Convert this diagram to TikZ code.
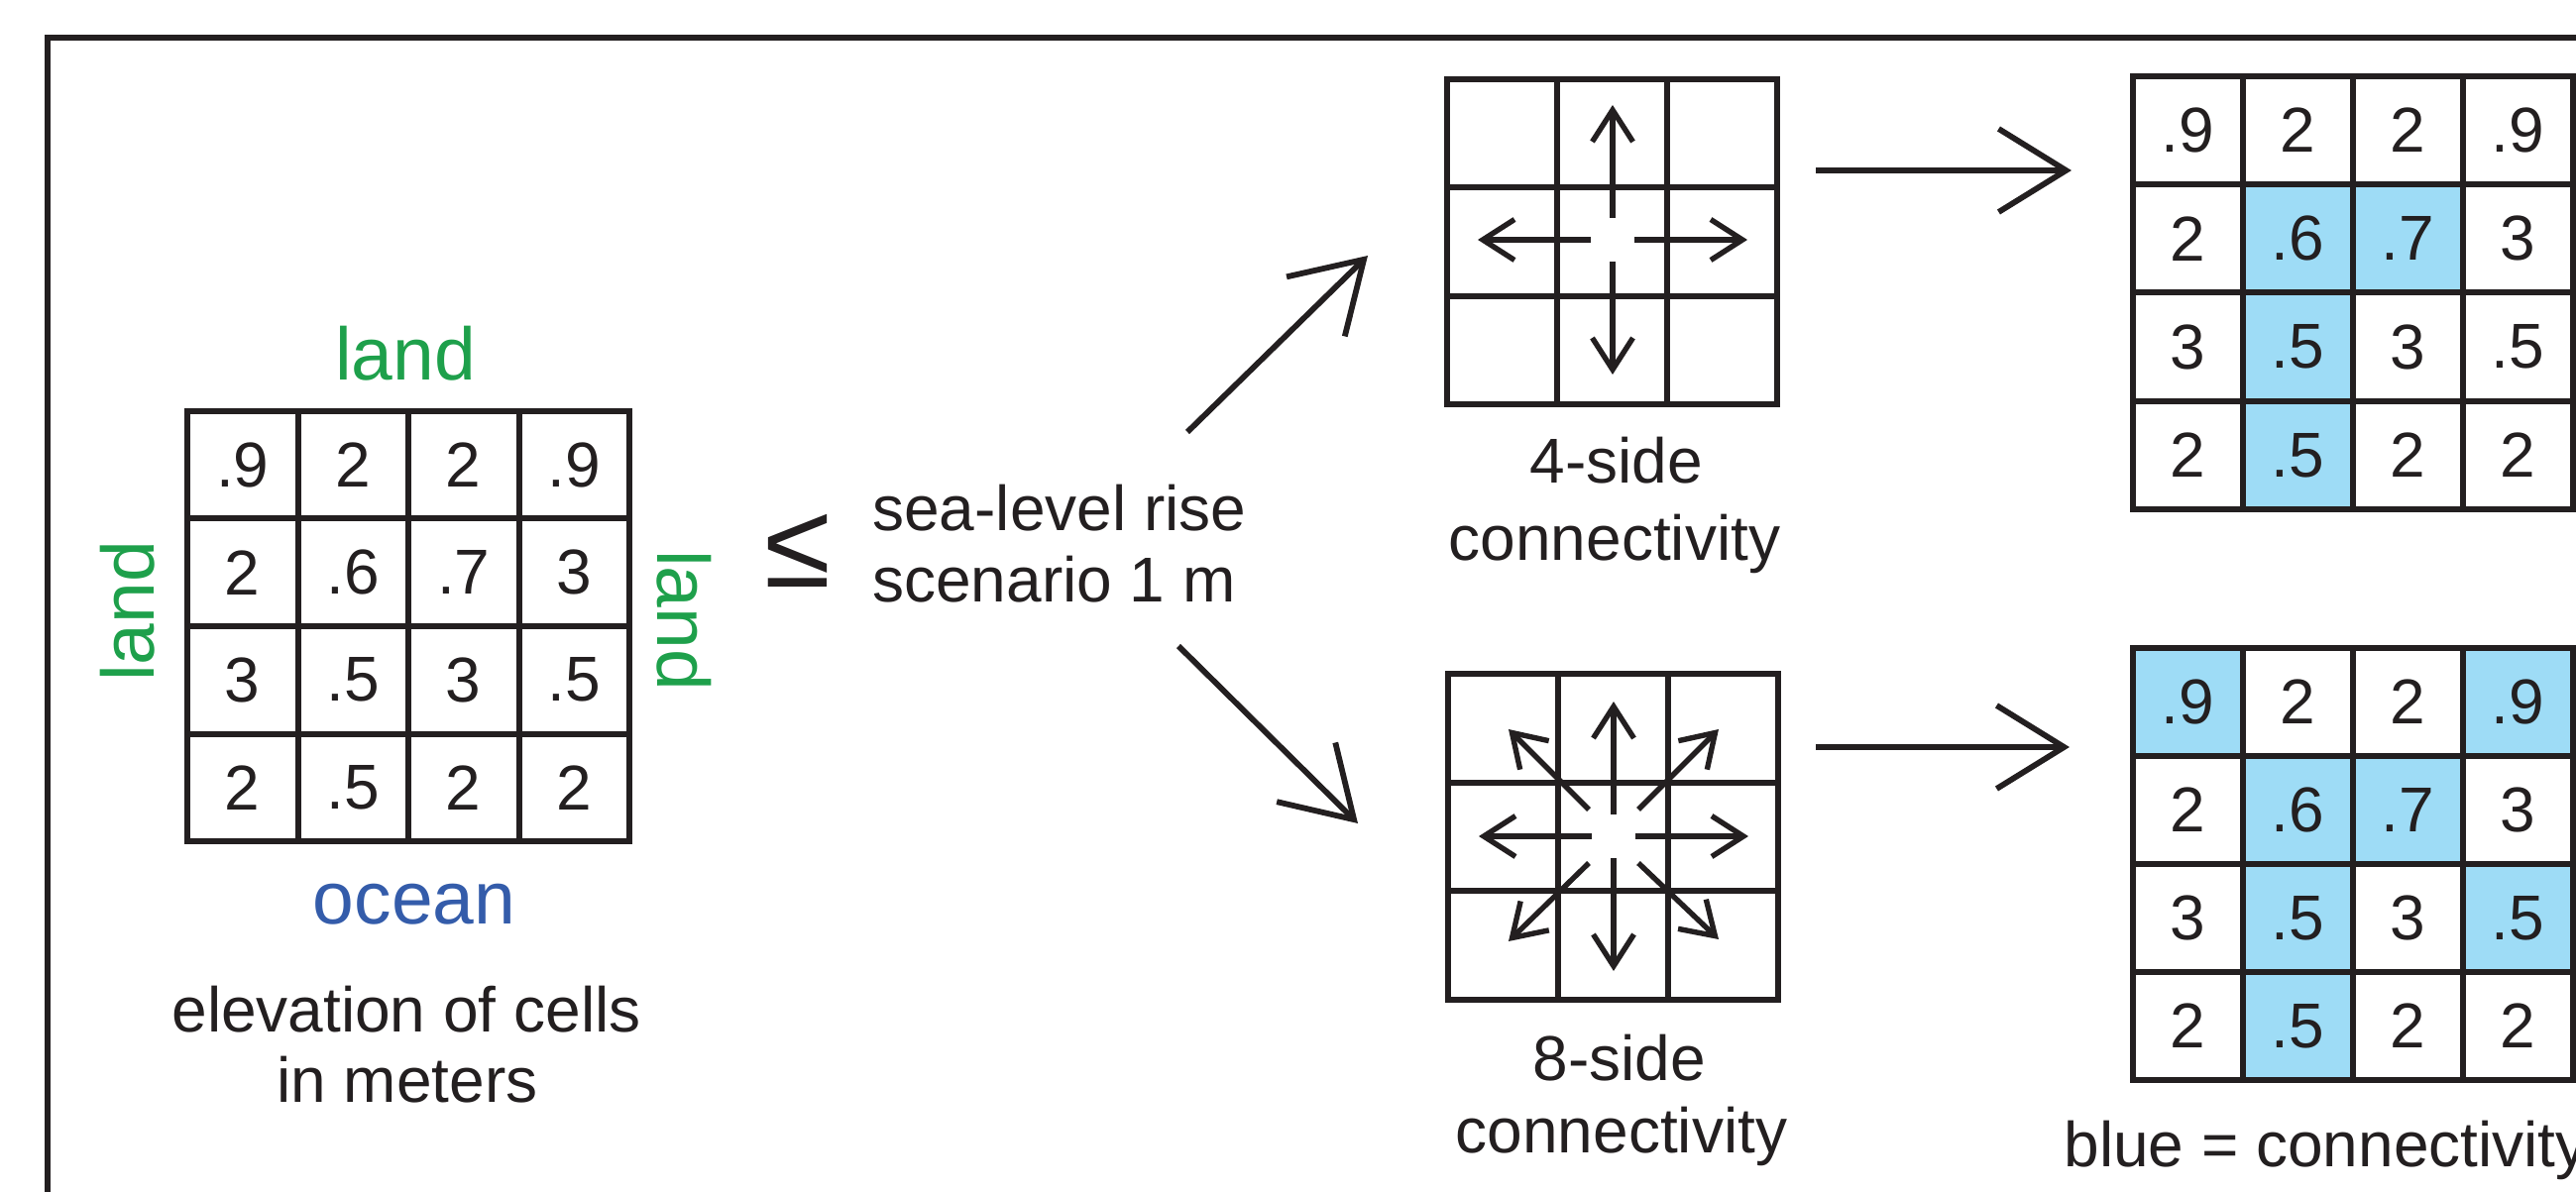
\documentclass[tikz,border=0pt]{standalone}
\usepackage{fontspec}
\setmainfont{Liberation Sans}
\usetikzlibrary{arrows.meta}
\definecolor{ink}{HTML}{231F20}
\definecolor{landgreen}{RGB}{30,160,75}
\definecolor{oceanblue}{RGB}{52,92,170}
\definecolor{connblue}{RGB}{158,220,246}
\begin{document}
\begin{tikzpicture}[x=0.5pt,y=-0.5pt,
  gridline/.style={draw=ink,line width=3pt,line cap=rect},
  cellnum/.style={font=\fontsize{32}{38}\selectfont,text=ink,inner sep=0pt,anchor=center},
  lbl/.style={font=\fontsize{32}{38}\selectfont,text=ink,inner sep=0pt,anchor=base},
  lblw/.style={font=\fontsize{32}{38}\selectfont,text=ink,inner sep=0pt,anchor=base west},
  sidelbl/.style={font=\fontsize{37.5}{44}\selectfont,inner sep=0pt},
  bigarrow/.style={draw=ink,line width=2.9pt,-{Straight Barb[length=34pt,width=42pt]}},
  smallarrow/.style={draw=ink,line width=2.7pt,-{Straight Barb[length=16pt,width=20.5pt]}},
  frameline/.style={draw=ink,line width=3pt}
]
\useasboundingbox (0,0) rectangle (2599,1203);
\clip (0,0) rectangle (2599,1203);
\fill[white] (0,0) rectangle (2599,1203);

% outer frame (extends beyond the page)
\draw[frameline] (47.5,38) rectangle (2900,1500);

% ---------- left grid: elevation ----------
\foreach \r/\vals in {1/{.9,2,2,.9},2/{2,.6,.7,3},3/{3,.5,3,.5},4/{2,.5,2,2}} {
  \foreach \v [count=\c] in \vals {
    \node[cellnum] (L-\r-\c) at ({189+111.5*(\c-0.5)},{415+108.5*(\r-0.5)}) {\v};
  }
}
\foreach \i in {0,...,4} {
  \draw[gridline] ({189+111.5*\i},415) -- ({189+111.5*\i},849);
  \draw[gridline] (189,{415+108.5*\i}) -- (635,{415+108.5*\i});
}
\node[sidelbl,text=landgreen,anchor=base] (landtop) at (409,383.5) {land};
\node[sidelbl,text=landgreen,rotate=90] (landleft) at (129,617) {land};
\node[sidelbl,text=landgreen,rotate=-90] (landright) at (690,626) {land};
\node[sidelbl,text=oceanblue,anchor=base] (ocean) at (418,932) {ocean};
\node[lbl] (elev1) at (410,1041) {elevation of cells};
\node[lbl] (elev2) at (411,1112) {in meters};

% ---------- threshold ----------
\node[font=\fontsize{61}{64}\selectfont,text=ink,inner sep=0pt] (leq) at (805,556) {≤};
\node[lblw] (slr1) at (880,536) {sea-level rise};
\node[lblw] (slr2) at (880,608) {scenario 1 m};

\coordinate (upS) at (1198,436);
\coordinate (upT) at (1380,258);
\coordinate (dnS) at (1189,652);
\coordinate (dnT) at (1370,831);
\draw[bigarrow] (upS) -- (upT);
\draw[bigarrow] (dnS) -- (dnT);

% ---------- 4-side connectivity ----------
\foreach \i in {0,...,3} {
  \draw[gridline] ({1460+111*\i},80) -- ({1460+111*\i},408.5);
  \draw[gridline] (1460,{80+109.5*\i}) -- (1793,{80+109.5*\i});
}
\coordinate (c4) at (1627,242);
\draw[smallarrow] ([shift={(0,-22)}]c4) -- ([shift={(0,-136)}]c4);
\draw[smallarrow] ([shift={(0,22)}]c4) -- ([shift={(0,136)}]c4);
\draw[smallarrow] ([shift={(-22,0)}]c4) -- ([shift={(-136,0)}]c4);
\draw[smallarrow] ([shift={(22,0)}]c4) -- ([shift={(136,0)}]c4);
\node[lbl] (four1) at (1631,488) {4-side};
\node[lbl] (four2) at (1629,566) {connectivity};

% ---------- 8-side connectivity ----------
\foreach \i in {0,...,3} {
  \draw[gridline] ({1461+111*\i},680) -- ({1461+111*\i},1008.5);
  \draw[gridline] (1461,{680+109.5*\i}) -- (1794,{680+109.5*\i});
}
\coordinate (c8) at (1628,844);
\draw[smallarrow] ([shift={(0,-22)}]c8) -- ([shift={(0,-136)}]c8);
\draw[smallarrow] ([shift={(0,22)}]c8) -- ([shift={(0,136)}]c8);
\draw[smallarrow] ([shift={(-22,0)}]c8) -- ([shift={(-136,0)}]c8);
\draw[smallarrow] ([shift={(22,0)}]c8) -- ([shift={(136,0)}]c8);
\draw[smallarrow] ([shift={(-25,-27)}]c8) -- ([shift={(-106,-108)}]c8);
\draw[smallarrow] ([shift={(25,-27)}]c8) -- ([shift={(106,-108)}]c8);
\draw[smallarrow] ([shift={(-25,27)}]c8) -- ([shift={(-106,106)}]c8);
\draw[smallarrow] ([shift={(25,27)}]c8) -- ([shift={(106,104)}]c8);
\node[lbl] (eight1) at (1634,1090) {8-side};
\node[lbl] (eight2) at (1636,1163.5) {connectivity};

% ---------- horizontal arrows ----------
\coordinate (h1S) at (1832,172);
\coordinate (h1T) at (2090,172);
\coordinate (h2S) at (1832,754);
\coordinate (h2T) at (2088,754);
\draw[bigarrow] (h1S) -- (h1T);
\draw[bigarrow] (h2S) -- (h2T);

% ---------- top right result grid (4-side) ----------
\foreach \r/\c in {2/2,2/3,3/2,4/2} {
  \fill[connblue] ({2152+111*(\c-1)},{77+109.25*(\r-1)}) rectangle ++(111,109.25);
}
\foreach \r/\vals in {1/{.9,2,2,.9},2/{2,.6,.7,3},3/{3,.5,3,.5},4/{2,.5,2,2}} {
  \foreach \v [count=\c] in \vals {
    \node[cellnum] (A-\r-\c) at ({2152+111*(\c-0.5)},{77+109.25*(\r-0.5)}) {\v};
  }
}
\foreach \i in {0,...,4} {
  \draw[gridline] ({2152+111*\i},77) -- ({2152+111*\i},514);
  \draw[gridline] (2152,{77+109.25*\i}) -- (2596,{77+109.25*\i});
}

% ---------- bottom right result grid (8-side) ----------
\foreach \r/\c in {1/1,1/4,2/2,2/3,3/2,3/4,4/2} {
  \fill[connblue] ({2152+111*(\c-1)},{654+109*(\r-1)}) rectangle ++(111,109);
}
\foreach \r/\vals in {1/{.9,2,2,.9},2/{2,.6,.7,3},3/{3,.5,3,.5},4/{2,.5,2,2}} {
  \foreach \v [count=\c] in \vals {
    \node[cellnum] (B-\r-\c) at ({2152+111*(\c-0.5)},{654+109*(\r-0.5)}) {\v};
  }
}
\foreach \i in {0,...,4} {
  \draw[gridline] ({2152+111*\i},654) -- ({2152+111*\i},1090);
  \draw[gridline] (2152,{654+109*\i}) -- (2596,{654+109*\i});
}
\node[lblw] (legend) at (2082,1177) {blue = connectivity};
\end{tikzpicture}
\end{document}
